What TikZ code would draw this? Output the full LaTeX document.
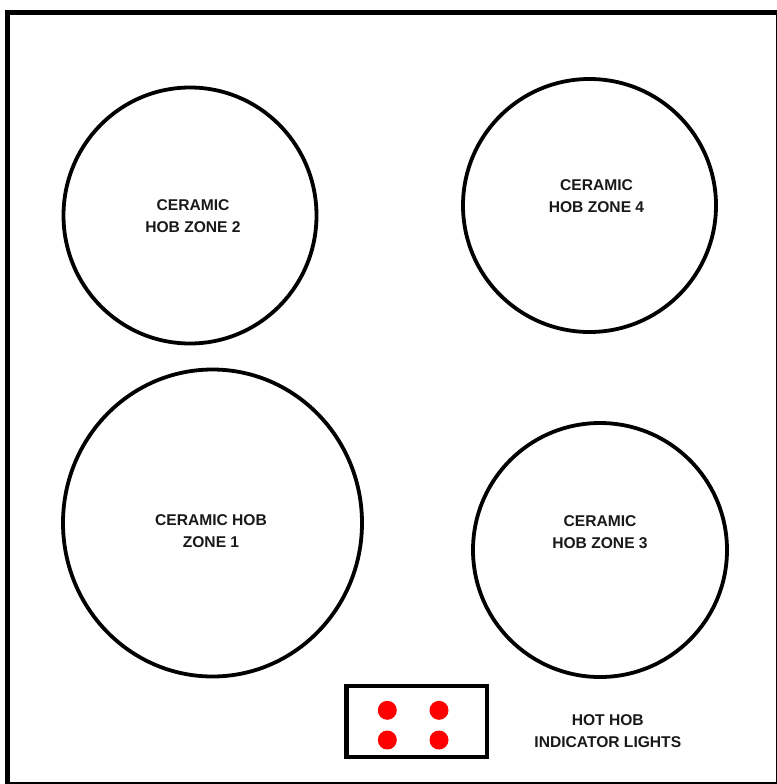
\documentclass[tikz,border=0pt]{standalone}
\usepackage{fontspec}
\setmainfont{Liberation Sans}
\usetikzlibrary{positioning,shapes.geometric}

\begin{document}
\begin{tikzpicture}[x=1pt, y=-1pt,
 zone/.style={draw, ellipse, line width=3.8pt, inner sep=0pt},
 lbl/.style={align=center, font=\fontsize{15.6}{22}\selectfont\bfseries, text=black!90},
 lamp/.style={circle, fill=red, minimum size=19pt, inner sep=0pt}]
\useasboundingbox (0,0) rectangle (776,784);
% hob outline
\draw[line width=4.6pt] (7.5,12.5) rectangle (778.5,784.3);
% cooking zones
\node[zone, minimum width=253pt, minimum height=256pt] (z2) at (190,215.5) {};
\node[zone, minimum width=253pt, minimum height=253pt] (z4) at (589.5,205.5) {};
\node[zone, minimum width=299pt, minimum height=307pt] (z1) at (212.5,523) {};
\node[zone, minimum width=254pt, minimum height=254pt] (z3) at (600,550) {};
\node[lbl] (t2) at (193,216.5) {CERAMIC\\HOB ZONE 2};
\node[lbl] (t4) at (596.5,196) {CERAMIC\\HOB ZONE 4};
\node[lbl] (t1) at (211,531.5) {CERAMIC HOB\\ZONE 1};
\node[lbl] (t3) at (600,532) {CERAMIC\\HOB ZONE 3};
% indicator lights
\node[draw, line width=4.6pt, minimum width=140.5pt, minimum height=71pt, inner sep=0pt] (panel) at (416.75,721.5) {};
\node[lamp] (l1) at (387.3,710.3) {};
\node[lamp] (l2) at (439,710.3) {};
\node[lamp] (l3) at (387.3,740) {};
\node[lamp] (l4) at (439,740) {};
\node[lbl] (tl) at (607.8,731.2) {HOT HOB\\INDICATOR LIGHTS};
\end{tikzpicture}
\end{document}
